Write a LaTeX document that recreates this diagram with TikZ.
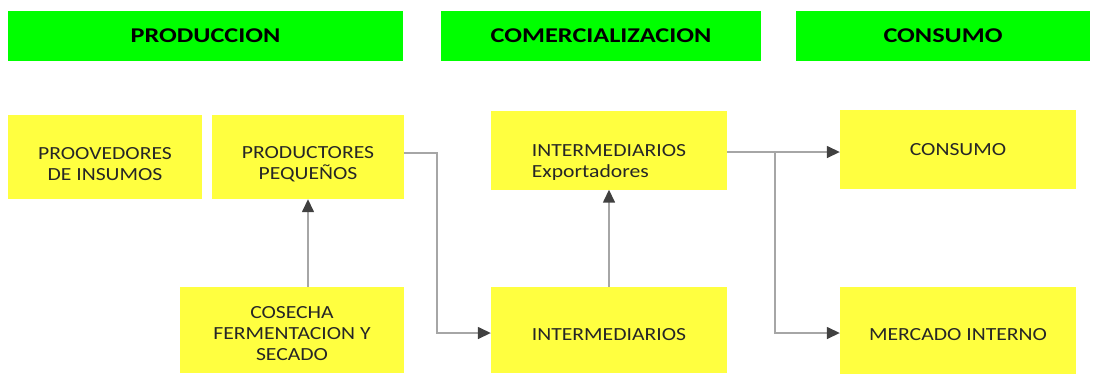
\documentclass[tikz,border=0pt]{standalone}
\usepackage{fontspec}
\setmainfont{Carlito}[FakeStretch=1.17]
\newfontfamily\hdrfont{Carlito}[FakeStretch=1.25]
\usepackage{xcolor}
\usepackage{tikz}
\usetikzlibrary{positioning, arrows.meta}
\definecolor{hdrGreen}{RGB}{0, 255, 0}
\definecolor{boxYellow}{RGB}{255, 255, 64}
\definecolor{lineGray}{RGB}{166, 166, 166}
\definecolor{tipGray}{RGB}{64, 64, 64}
\definecolor{txtDark}{RGB}{38, 38, 38}

\begin{document}
\begin{tikzpicture}[
    x=1pt, y=-1pt,
    font=\fontsize{18.5}{21}\selectfont\color{txtDark},
    hdr/.style={rectangle, fill=hdrGreen, inner sep=0pt, minimum height=50pt,
                font=\hdrfont\bfseries\fontsize{21}{24}\selectfont\color{black}},
    box/.style={rectangle, fill=boxYellow, inner sep=0pt},
    txt/.style={inner sep=0pt, align=center},
    arr/.style={-{Triangle[length=13pt, width=12pt, color=tipGray]}, line width=1.5pt, lineGray}
]
\useasboundingbox (0,0) rectangle (1094,373);

% stage headers
\node[hdr, minimum width=395pt] (hprod)  at (205.5,36) {PRODUCCION};
\node[hdr, minimum width=320pt] (hcomer) at (601,36)   {COMERCIALIZACION};
\node[hdr, minimum width=294pt] (hcons)  at (943,36)   {CONSUMO};

% boxes
\node[box, minimum width=194pt, minimum height=84pt] (prov)  at (105,157) {};
\node[box, minimum width=192pt, minimum height=84pt] (prodp) at (308,157) {};
\node[box, minimum width=224pt, minimum height=86pt] (cos)   at (292,330) {};
\node[box, minimum width=236pt, minimum height=79pt] (iexp)  at (609,150) {};
\node[box, minimum width=236pt, minimum height=86pt] (inter) at (609,330) {};
\node[box, minimum width=236pt, minimum height=79pt] (consb) at (958,149) {};
\node[box, minimum width=236pt, minimum height=87pt] (merc)  at (958,330) {};

% box texts
\node[txt] (prov-t)  at ([yshift=-7pt]prov.center)  {PROOVEDORES\\DE INSUMOS};
\node[txt] (prodp-t) at ([yshift=-7pt]prodp.center) {PRODUCTORES\\PEQUEÑOS};
\node[txt] (cos-t)   at ([yshift=-4pt]cos.center)   {COSECHA\\FERMENTACION Y\\SECADO};
\node[txt, align=left] (iexp-t) at ([yshift=-12pt]iexp.center) {INTERMEDIARIOS\\Exportadores};
\node[txt] (inter-t) at ([yshift=-5pt]inter.center) {INTERMEDIARIOS};
\node[txt] (consb-t) at ([yshift=-1pt]consb.center) {CONSUMO};
\node[txt] (merc-t)  at ([yshift=-5pt]merc.center)  {MERCADO INTERNO};

% connectors
\draw[arr] (cos.north -| prodp.south) -- (prodp.south);
\draw[arr] ([yshift=4pt]prodp.east) -- ++(33,0) |- ([yshift=-3pt]inter.west);
\draw[arr] (inter) -- (iexp);
\draw[arr] ([yshift=-2pt]iexp.east) -- ([yshift=-2pt]iexp.east -| consb.west);
\coordinate (split) at (775,152);
\draw[arr] (split) |- ([yshift=-3pt]merc.west);
\end{tikzpicture}
\end{document}
